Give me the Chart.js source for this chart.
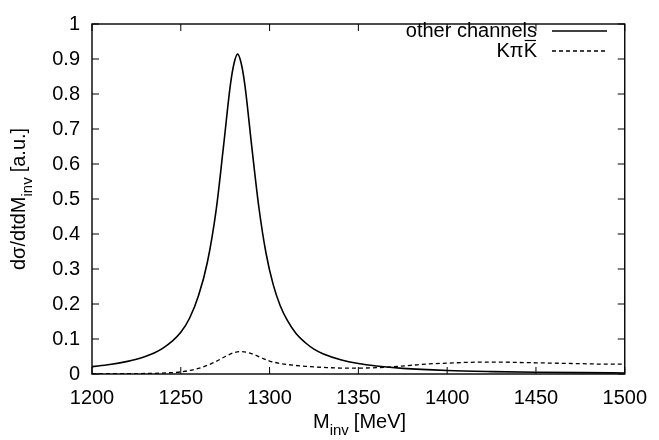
<!DOCTYPE html>
<html>
<head>
<meta charset="utf-8">
<script src="https://cdn.jsdelivr.net/npm/chart.js@4/dist/chart.umd.min.js"></script>
<style>
  html, body { margin: 0; padding: 0; background: #fff; }
  #wrap { width: 659px; height: 440px; }
</style>
</head>
<body>
<div id="wrap"><canvas id="myChart"></canvas></div>
<script>
// data
const massOther = [1200, 1210, 1220, 1225, 1230, 1235, 1240, 1245, 1250, 1255, 1260, 1265, 1270, 1274, 1278, 1280, 1282,
  1284, 1286, 1290, 1294, 1298, 1302, 1306, 1310, 1315, 1320, 1325, 1330, 1340, 1350, 1360, 1375, 1400, 1425, 1450, 1475, 1500];
const otherChannels = [0.021, 0.027, 0.036, 0.042, 0.050, 0.060, 0.074, 0.093, 0.119, 0.160, 0.224, 0.320, 0.472, 0.648, 0.829, 0.888, 0.914,
  0.888, 0.829, 0.648, 0.475, 0.345, 0.256, 0.195, 0.153, 0.115, 0.090, 0.071, 0.058, 0.041, 0.030, 0.023, 0.016, 0.010, 0.0069, 0.005, 0.0038, 0.003];

const massKpiK = [1200, 1220, 1235, 1245, 1250, 1255, 1260, 1265, 1270, 1275, 1280, 1284, 1288, 1292, 1296, 1300,
  1305, 1310, 1320, 1330, 1340, 1350, 1360, 1370, 1380, 1390, 1400, 1410, 1420, 1430, 1440, 1450, 1460, 1470, 1480, 1490, 1500];
const kpik = [0.001, 0.001, 0.002, 0.004, 0.006, 0.010, 0.016, 0.025, 0.036, 0.050, 0.061, 0.064, 0.061, 0.054, 0.045, 0.037,
  0.031, 0.027, 0.022, 0.019, 0.017, 0.017, 0.018, 0.021, 0.025, 0.029, 0.031, 0.033, 0.034, 0.034, 0.033, 0.032, 0.031, 0.030, 0.029, 0.028, 0.028];

const xTicks = [1200, 1250, 1300, 1350, 1400, 1450, 1500];
const yTicks = [0, 0.1, 0.2, 0.3, 0.4, 0.5, 0.6, 0.7, 0.8, 0.9, 1];

const FONT = '"Liberation Sans", Arial, Helvetica, sans-serif';

function toPoints(xs, ys) {
  return xs.map((x, i) => ({ x: x, y: ys[i] }));
}

// frame, inward ticks on all four sides, legend and axis titles (gnuplot look)
const gnuplotFrame = {
  id: 'gnuplotFrame',
  afterDraw(chart) {
    const ctx = chart.ctx;
    const a = chart.chartArea;
    const xs = chart.scales.x, ys = chart.scales.y;
    const tl = 7;
    ctx.save();
    ctx.strokeStyle = '#000';
    ctx.lineWidth = 1.4;
    ctx.strokeRect(a.left, a.top, a.right - a.left, a.bottom - a.top);
    ctx.beginPath();
    xTicks.forEach(v => {
      const px = xs.getPixelForValue(v);
      ctx.moveTo(px, a.bottom); ctx.lineTo(px, a.bottom - tl);
      ctx.moveTo(px, a.top); ctx.lineTo(px, a.top + tl);
    });
    yTicks.forEach(v => {
      const py = ys.getPixelForValue(v);
      ctx.moveTo(a.left, py); ctx.lineTo(a.left + tl, py);
      ctx.moveTo(a.right, py); ctx.lineTo(a.right - tl, py);
    });
    ctx.lineWidth = 1;
    ctx.stroke();

    // legend
    ctx.font = '20px ' + FONT;
    ctx.fillStyle = '#000';
    ctx.textAlign = 'right';
    ctx.textBaseline = 'alphabetic';
    chart.data.datasets.forEach((ds, i) => {
      const y = 30 + i * 20;
      ctx.fillText(ds.label, 537, y + 7);
      if (ds.overlineLast) {
        // bar over the last letter (anti-kaon)
        const w = ctx.measureText('K').width;
        ctx.beginPath();
        ctx.lineWidth = 1.2;
        ctx.moveTo(537 - w + 1, y + 7 - 16.5);
        ctx.lineTo(537 - 1, y + 7 - 16.5);
        ctx.stroke();
      }
      ctx.beginPath();
      ctx.setLineDash(ds.borderDash || []);
      ctx.lineWidth = ds.borderWidth;
      ctx.moveTo(552, y + 1);
      ctx.lineTo(607, y + 1);
      ctx.stroke();
      ctx.setLineDash([]);
    });

    // x title: M_inv [MeV]
    ctx.textAlign = 'left';
    let x0 = 313, yb = 428;
    ctx.font = '20px ' + FONT;
    ctx.fillText('M', x0, yb);
    x0 += ctx.measureText('M').width;
    ctx.font = '15px ' + FONT;
    ctx.fillText('inv', x0, yb + 7);
    x0 += ctx.measureText('inv').width + 5;
    ctx.font = '20px ' + FONT;
    ctx.fillText('[MeV]', x0, yb);

    // y title: dσ/dtdM_inv [a.u.]
    ctx.translate(25, 270);
    ctx.rotate(-Math.PI / 2);
    let s = 0;
    ctx.font = '20px ' + FONT;
    ctx.fillText('d\u03c3/dtdM', s, 0);
    s += ctx.measureText('d\u03c3/dtdM').width;
    ctx.font = '15px ' + FONT;
    ctx.fillText('inv', s, 7);
    s += ctx.measureText('inv').width + 5;
    ctx.font = '20px ' + FONT;
    ctx.fillText('[a.u.]', s, 0);
    ctx.restore();
  }
};

const ctx1 = document.getElementById('myChart').getContext('2d');
const myChart = new Chart(ctx1, {
  type: 'line',
  data: {
    datasets: [{
      label: 'other channels',
      data: toPoints(massOther, otherChannels),
      borderColor: '#000',
      borderWidth: 1.6,
      pointRadius: 0,
      cubicInterpolationMode: 'monotone',
      fill: false
    }, {
      label: 'K\u03c0K',
      overlineLast: true,
      data: toPoints(massKpiK, kpik),
      borderColor: '#000',
      borderWidth: 1.3,
      borderDash: [4, 3],
      pointRadius: 0,
      cubicInterpolationMode: 'monotone',
      fill: false
    }]
  },
  options: {
    responsive: true,
    maintainAspectRatio: false,
    animation: false,
    layout: { padding: { top: 12, right: 28, left: 0, bottom: 0 } },
    plugins: { legend: { display: false }, tooltip: { enabled: false } },
    scales: {
      x: {
        type: 'linear',
        min: 1200, max: 1500,
        afterBuildTicks: sc => { sc.ticks = xTicks.map(v => ({ value: v })); },
        afterFit: sc => { sc.height = 66; },
        grid: { display: false, drawTicks: false },
        border: { display: false },
        ticks: { padding: 12, color: '#000', font: { family: FONT, size: 20 }, maxRotation: 0,
          callback: v => String(v) }
      },
      y: {
        type: 'linear',
        min: 0, max: 1,
        afterBuildTicks: sc => { sc.ticks = yTicks.map(v => ({ value: v })); },
        afterFit: sc => { sc.width = 92; },
        grid: { display: false, drawTicks: false },
        border: { display: false },
        ticks: { padding: 12, color: '#000', font: { family: FONT, size: 20 },
          callback: v => String(v) }
      }
    }
  },
  plugins: [gnuplotFrame]
});
</script>
</body>
</html>
